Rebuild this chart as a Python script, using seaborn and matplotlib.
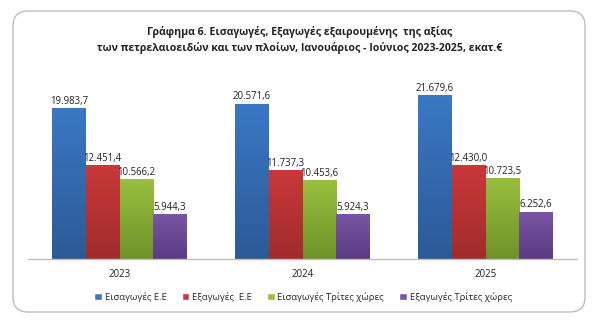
import matplotlib
matplotlib.use("Agg")
import matplotlib.pyplot as plt
from matplotlib.patches import FancyBboxPatch
import numpy as np
import pandas as pd
import seaborn as sns

years = ["2023", "2024", "2025"]
series = ["Εισαγωγές Ε.Ε", "Εξαγωγές  Ε.Ε", "Εισαγωγές Τρίτες χώρες", "Εξαγωγές Τρίτες χώρες"]
imports_eu = [19983.7, 20571.6, 21679.6]
exports_eu = [12451.4, 11737.3, 12430.0]
imports_third = [10566.2, 10453.6, 10723.5]
exports_third = [5944.3, 5924.3, 6252.6]
title = ("Γράφημα 6. Εισαγωγές, Εξαγωγές εξαιρουμένης  της αξίας\n"
         "των πετρελαιοειδών και των πλοίων, Ιανουάριος - Ιούνιος 2023-2025, εκατ.€")

colors = ["#3A78C4", "#C9383A", "#98BF3D", "#7A55A6"]
dark = ["#2C5A97", "#A02C2C", "#6F9228", "#5A3C82"]

sns.set_theme(style="white")
plt.rcParams["font.family"] = ["Open Sans", "DejaVu Sans"]

values = [imports_eu, exports_eu, imports_third, exports_third]
rows = []
for s, vals in zip(series, values):
    for y, v in zip(years, vals):
        rows.append({"year": y, "series": s, "value": v})
df = pd.DataFrame(rows)

fig = plt.figure(figsize=(6.0, 3.34), dpi=100)
frame = FancyBboxPatch((13/600, 1-312/334), (585-13)/600, (312-11)/334,
                       boxstyle="round,pad=0,rounding_size=0.025",
                       transform=fig.transFigure, facecolor="none",
                       edgecolor="#BDBDBD", linewidth=1.0, mutation_aspect=600/334,
                       zorder=-10)
fig.patches.append(frame)

ax = fig.add_axes([28/600, 1-259/334, (577-28)/600, (259-78)/334])
sns.barplot(data=df, x="year", y="value", hue="series", order=years,
            hue_order=series, palette=colors, width=0.735, ax=ax,
            saturation=1, errorbar=None, legend=True)

# gradient fill
for ci, cont in enumerate(ax.containers):
    for p in cont:
        x0, y0 = p.get_x(), p.get_y()
        w, h = p.get_width(), p.get_height()
        c1 = np.array(matplotlib.colors.to_rgb(colors[ci]))
        c2 = np.array(matplotlib.colors.to_rgb(dark[ci]))
        t = np.linspace(0, 1, 64)[:, None]
        grad = (c2 * (1 - t) + c1 * t)[:, None, :]
        grad = np.repeat(grad, 2, axis=1)
        im = ax.imshow(grad, extent=[x0, x0 + w, y0, y0 + h], aspect="auto",
                       origin="lower", zorder=p.get_zorder() + 0.1)
        im.set_clip_path(p)

def fmt(v):
    s = f"{v:,.1f}"
    return s.replace(",", "X").replace(".", ",").replace("X", ".")

for ci, cont in enumerate(ax.containers):
    texts = ax.bar_label(cont, labels=[fmt(v) for v in values[ci]], padding=1,
                         fontsize=6.9, color="#222222")
    for t in texts:
        t.set_zorder(10)

ax.set_xlim(-0.5, 2.5)
ax.set_ylim(0, 24000)
ax.set_xlabel("")
ax.set_ylabel("")
ax.set_yticks([])
ax.tick_params(axis="x", length=0, pad=7, labelsize=7.0, colors="#222222")
for s in ["top", "right", "left"]:
    ax.spines[s].set_visible(False)
ax.spines["bottom"].set_color("#BFBFBF")
ax.spines["bottom"].set_linewidth(1.0)
ax.patch.set_alpha(0)

ax.legend_.remove()
handles = [matplotlib.patches.Patch(facecolor=c) for c in colors]
fig.legend(handles, series, loc="center", bbox_to_anchor=(0.505, 1-297/334),
           ncol=4, frameon=False, fontsize=6.8, handlelength=0.8,
           handleheight=0.8, handletextpad=0.3, columnspacing=1.6)

fig.text(0.5, 1-40/334, title, ha="center", va="center", fontsize=7.6,
         fontweight="bold", color="#222222", linespacing=1.45)

fig.savefig("out.png", dpi=100)
